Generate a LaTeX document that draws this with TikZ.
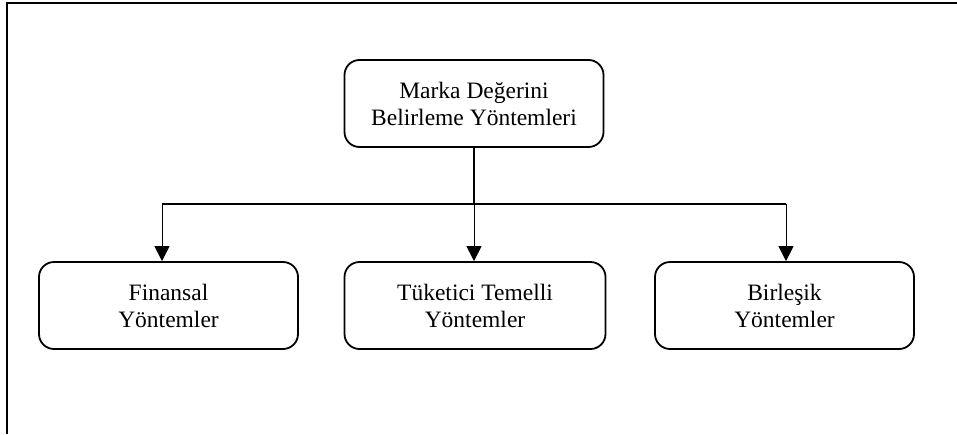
\documentclass[tikz,border=0pt]{standalone}
\usepackage{fontspec}
\setmainfont{Liberation Serif}
\usetikzlibrary{arrows.meta}
\begin{document}
\begin{tikzpicture}[x=1pt,y=-1pt,
  box/.style={draw, line width=1.8pt, rounded corners=15pt, minimum width=259pt,
    minimum height=87pt, align=center, inner sep=0pt,
    font=\fontsize{23.5pt}{27pt}\selectfont},
  bus/.style={line width=1.8pt},
  drop/.style={line width=1pt, -{Triangle[length=15pt,width=15pt]}},
  frame/.style={line width=2pt}]
\useasboundingbox (0,0) rectangle (957,434);
% partial outer frame: top and left edges
\coordinate (frTL) at (7,3);
\coordinate (frTR) at (957,3);
\coordinate (frBL) at (7,434);
\draw[frame] (frTR) -- (frTL) -- (frBL);
% root and child boxes
\node[box] (root) at (474,103.5) {Marka Değerini\\Belirleme Yöntemleri};
\node[box] (fin) at (168.5,305.5) {Finansal\\Yöntemler};
\node[box, minimum width=261pt] (tuk) at (475,305.5) {Tüketici Temelli\\Yöntemler};
\node[box] (bir) at (784.5,305.5) {Birleşik\\Yöntemler};
% distribution bus
\coordinate (busL) at (162,204);
\coordinate (busM) at (474,204);
\coordinate (busR) at (786,204);
\draw[bus] (root.south) -- (busM);
\draw[bus] (busL) -- (busR);
\draw[drop] (busL) -- (busL |- fin.north);
\draw[drop] (busM) -- (busM |- tuk.north);
\draw[drop] (busR) -- (busR |- bir.north);
\end{tikzpicture}
\end{document}
